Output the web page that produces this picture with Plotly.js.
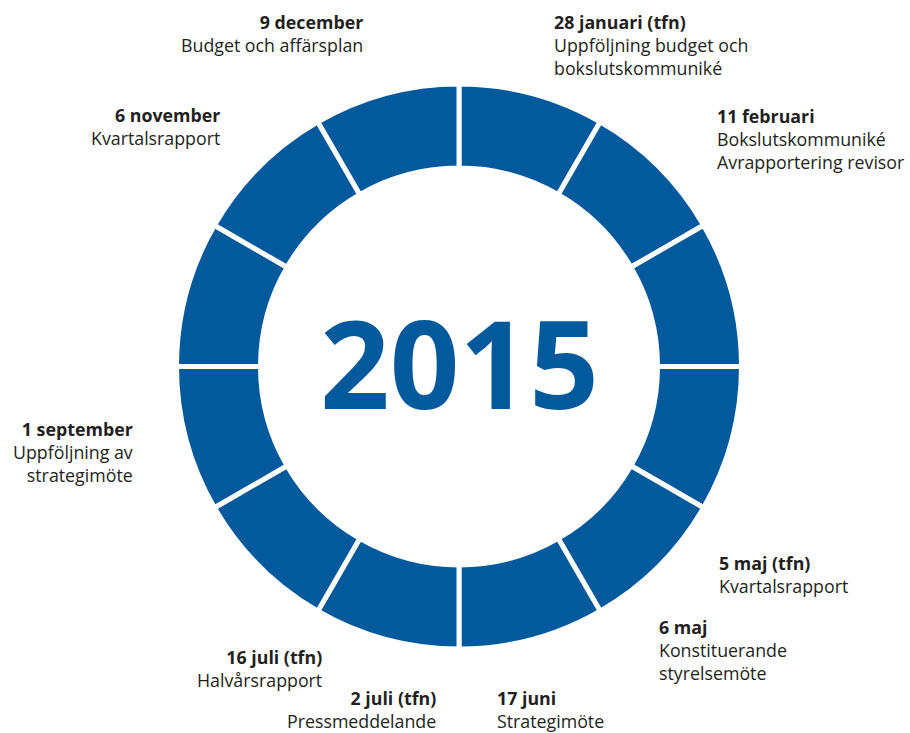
<!DOCTYPE html>
<html>
<head>
<meta charset="utf-8">
<script src="https://cdn.plot.ly/plotly-3.0.1.min.js"></script>
<style>html,body{margin:0;padding:0;background:#fff;}#chart{width:910px;height:733px;}</style>
</head>
<body>
<div id="chart"></div>
<script>
// Data
const segments = ["jan","feb","mar","apr","maj","jun","jul","aug","sep","okt","nov","dec"];
const segmentValues = [1,1,1,1,1,1,1,1,1,1,1,1];
const centerText = "2015";
const dates = ["28 januari (tfn)","11 februari","5 maj (tfn)","6 maj","17 juni","2 juli (tfn)","16 juli (tfn)","1 september","6 november","9 december"];
const descriptions = [
  "Uppföljning budget och<br>bokslutskommuniké",
  "Bokslutskommuniké<br>Avrapportering revisor",
  "Kvartalsrapport",
  "Konstituerande<br>styrelsemöte",
  "Strategimöte",
  "Pressmeddelande",
  "Halvårsrapport",
  "Uppföljning av<br>strategimöte",
  "Kvartalsrapport",
  "Budget och affärsplan"
];

// Layout (pixel positions of label boxes: x, top y, side)
const W = 910, H = 733;
const labelPos = [
  [552, 8, "left"],
  [715, 102, "left"],
  [717, 549, "left"],
  [657, 613, "left"],
  [495, 684, "left"],
  [438, 684, "right"],
  [324, 643, "right"],
  [135, 415, "right"],
  [222, 101, "right"],
  [365, 8, "right"]
];
const BLUE = "#02599B";
const TEXT = "#231F20";
const FONT = "Open Sans, Noto Sans, sans-serif";

const cx = 459, cy = 366.5, R = 282.5;
const trace = {
  type: "pie",
  labels: segments,
  values: segmentValues,
  sort: false,
  direction: "clockwise",
  rotation: 0,
  hole: 198.5 / R,
  textinfo: "none",
  hoverinfo: "none",
  marker: {colors: segments.map(() => BLUE), line: {color: "#ffffff", width: 5}},
  domain: {x: [(cx - R) / W, (cx + R) / W], y: [1 - (cy + R) / H, 1 - (cy - R) / H]},
  showlegend: false
};

const annotations = dates.map((d, i) => ({
  xref: "paper", yref: "paper",
  x: labelPos[i][0] / W, y: 1 - labelPos[i][1] / H,
  xanchor: labelPos[i][2], yanchor: "top", align: labelPos[i][2],
  showarrow: false,
  text: "<b>" + d + "</b><br>" + descriptions[i],
  font: {family: FONT, size: 17.8, color: TEXT}
}));
annotations.push({
  xref: "paper", yref: "paper",
  x: cx / W, y: 1 - 362 / H, xanchor: "center", yanchor: "middle",
  showarrow: false,
  text: "<b>" + centerText + "</b>",
  font: {family: FONT, size: 122, color: BLUE}
});

Plotly.newPlot("chart", [trace], {
  width: W, height: H,
  margin: {l: 0, r: 0, t: 0, b: 0},
  paper_bgcolor: "#ffffff",
  plot_bgcolor: "#ffffff",
  annotations: annotations,
  showlegend: false
}, {displayModeBar: false, staticPlot: true});
</script>
</body>
</html>
